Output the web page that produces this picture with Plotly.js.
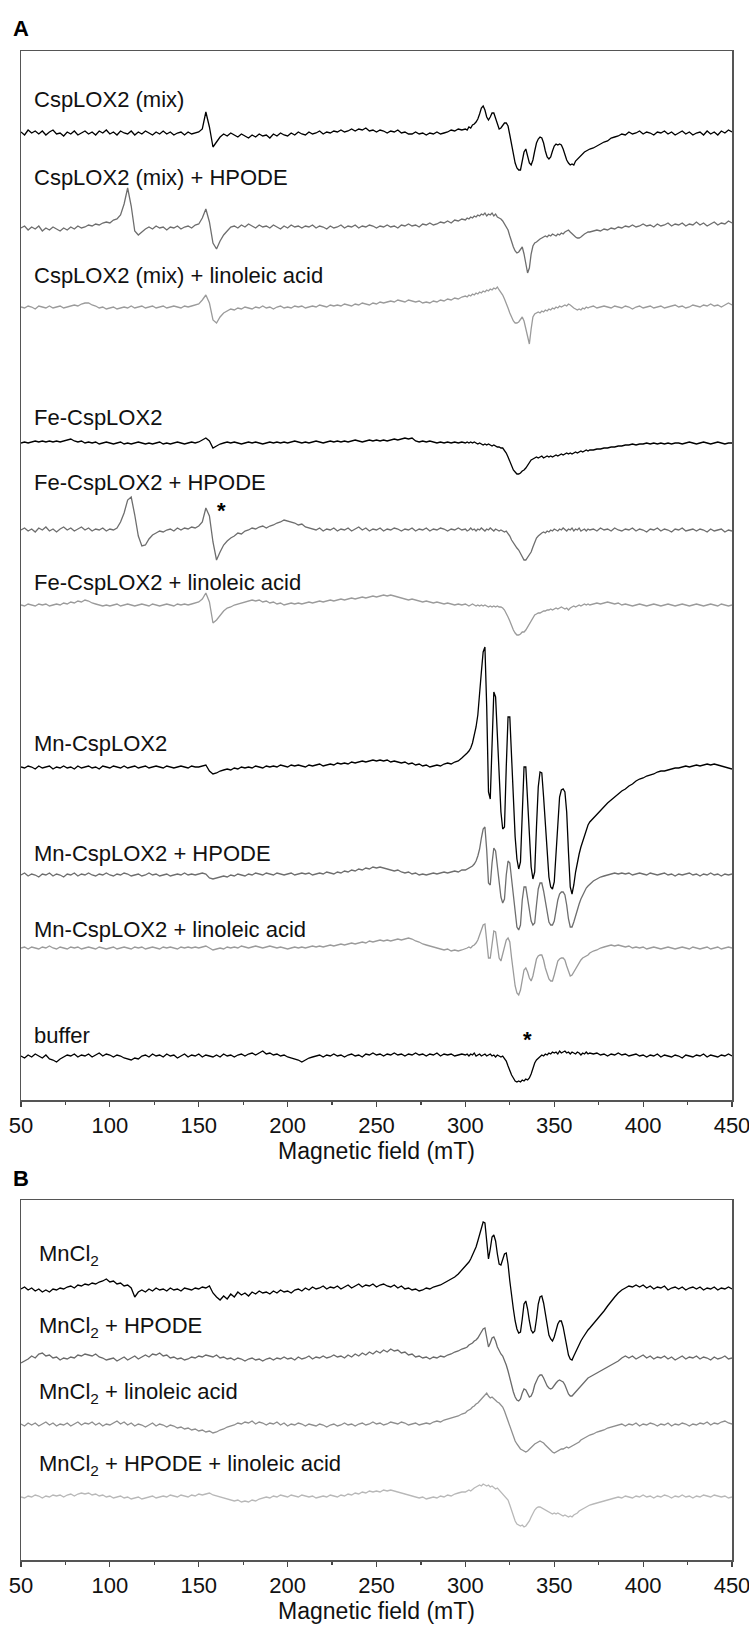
<!DOCTYPE html>
<html>
<head>
<meta charset="utf-8">
<script src="https://cdn.plot.ly/plotly-3.0.1.min.js"></script>
<style>html,body{margin:0;padding:0;background:#fff;}#chart{width:749px;height:1627px;}</style>
</head>
<body>
<div id="chart"></div>
<script>
// Magnetic field grid (mT)
const fieldLow = [50,52,54,56,58,60,62,64,66,68,70,72,74,76,78,80,82,84,86,88,90,92,94,96,98,100,102,104,106,108,110,112,114,116,118,120,122,124,126,128,130,132,134,136,138,140,142,144,146,148,150,152,154,156,158,160,162,164,166,168,170,172,174,176,178,180,182,184,186,188,190,192,194,196,198,200,202,204,206,208,210,212,214,216,218,220,222,224,226,228,230,232,234,236,238,240,242,244,246,248,250,252,254,256,258,260,262,264,266,268,270,272,274,276,278,280,282,284,286,288,290,292,294,296,298];
const fieldMid = [300,301,302,303,304,305,306,307,308,309,310,311,312,313,314,315,316,317,318,319,320,321,322,323,324,325,326,327,328,329,330,331,332,333,334,335,336,337,338,339,340,341,342,343,344,345,346,347,348,349,350,351,352,353,354,355,356,357,358,359,360,361,362,363,364,365,366,367,368,369,370];
const fieldHigh = [372,374,376,378,380,382,384,386,388,390,392,394,396,398,400,402,404,406,408,410,412,414,416,418,420,422,424,426,428,430,432,434,436,438,440,442,444,446,448,450];

// Panel A spectra (arbitrary units, signal relative to each baseline)
const cspMix = [
1,-2,3,0,2,-1,2,-2,1,3, -1,0,-3,1,-1,2,-2,0,2,-1, 1,-2,2,0,3,-1,1,-2,2,0, -1,2,-2,1,-1,2,0,-2,1,-1,
2,-1,1,-2,0,1,-2,1,-1,0, 1,4,21,6,-14,-9,-4,-1,-3,0, -2,-4,-1,-3,-5,-2,-4,-1,-3,-2, -5,-1,-3,0,-2,-3,0,-2,1,-1,
-2,1,-1,0,2,-1,1,0,2,1, 3,1,2,4,2,4,3,5,2,3, 1,3,2,0,2,1,3,0,1,-1, -1,1,-1,0,-2,0,-1,1,-1,0, 1,3,2,4,3,
4,3,6,5,8,9,11,14,19,25,27,23,16,13,16,20,20,15,8,4,5,8,10,10,7,-2,-12,-22,-30,-35,-37,-37,-28,-19,-16,-22,-30,-32,-27,-18,-10,-6,-4,-5,-10,-18,-24,-26,-24,-18,-13,-11,-12,-11,-12,-16,-22,-27,-30,-32,-31,-32,-28,-26,-24,-22,-21,-19,-18,-17,-16,
-15,-13,-11,-9,-8,-5,-4,-3,-1,-2, 1,-1,0,2,-1,1,0,-2,1,0, 2,-1,1,-2,0,2,-1,1,-2,0, 1,-2,2,-1,1,-2,2,0,3,1];
const cspMixHpode = [
0,2,-2,1,-1,2,-3,0,-2,1, -1,-3,0,-2,1,-1,2,0,1,3, 2,4,3,5,6,5,8,9,13,24, 40,22,-3,-7,-4,-1,1,-1,2,0,
1,-2,1,0,2,-1,1,2,0,3, 4,10,19,6,-15,-21,-13,-7,-3,1, 2,0,3,1,4,2,0,3,1,2, 0,3,1,-1,2,0,3,1,2,0,
2,1,3,0,2,1,-1,2,0,1, 3,0,2,1,3,0,2,1,3,2, 0,2,1,3,1,2,0,3,2,4, 2,3,1,4,3,5,3,4,6,5, 7,5,8,7,9,
8,10,9,11,10,12,11,13,12,14,13,15,12,14,13,15,12,14,11,10,9,7,4,2,-2,-8,-14,-19,-23,-25,-24,-21,-19,-26,-34,-45,-40,-26,-18,-15,-14,-12,-11,-10,-9,-8,-9,-7,-8,-6,-7,-8,-6,-7,-5,-6,-4,-3,-2,-4,-6,-8,-9,-10,-10,-9,-7,-6,-5,-4,-4,
-3,-2,-3,-1,-2,0,-1,1,0,2, 1,3,1,2,4,2,3,1,4,2, 3,5,2,4,3,5,2,4,3,6, 3,5,2,4,6,3,5,4,7,5];
const cspMixLinoleic = [
0,-1,1,0,-2,1,0,-1,1,-1, 0,1,-1,0,1,2,1,3,4,4, 2,1,-1,0,-2,-1,0,-2,-1,0, -1,1,-1,0,1,-1,0,1,-1,0,
1,-1,0,1,0,-1,1,0,1,2, 3,7,12,4,-13,-16,-10,-6,-4,-2, -3,-1,-2,0,-1,-2,0,-1,1,-1, 0,-2,0,1,-1,0,-1,1,0,1,
-1,0,1,0,2,1,0,2,1,2, 1,3,2,1,3,2,4,3,2,4, 3,5,4,5,6,5,7,6,5,7, 6,5,6,4,5,4,6,5,7,6, 8,7,9,8,10,
11,10,12,11,13,12,14,13,15,14,16,15,17,16,18,17,19,18,20,17,15,12,8,4,-1,-6,-11,-14,-16,-16,-15,-12,-10,-14,-22,-32,-37,-22,-10,-7,-6,-5,-6,-4,-5,-3,-4,-2,-3,-1,-2,0,-1,1,0,1,2,1,3,2,0,-1,-2,-3,-2,-3,-1,-2,0,-1,0,
1,-1,0,1,0,-1,1,0,-1,1, 0,-2,0,1,-1,0,1,-1,0,1, -1,0,1,2,0,1,-1,0,2,1, 0,2,1,3,1,2,0,2,4,2];
const feCsp = [
0,1,0,1,2,1,2,1,2,1, 2,1,2,3,4,2,1,2,0,1, 0,1,-1,0,1,0,-1,0,1,-1, 0,-1,0,1,0,-1,0,-1,0,1,
-1,0,-1,0,1,0,-1,0,1,0, 1,3,5,2,-5,-3,-1,0,1,0, 1,0,-1,0,1,0,1,0,-1,0, 1,0,1,0,1,0,1,2,1,0,
1,0,1,2,1,0,1,2,1,2, 1,2,1,2,3,2,1,2,3,2, 3,2,3,2,3,4,3,4,5,4, 5,2,1,2,1,2,1,0,1,0, 1,0,1,0,1,
0,1,0,1,0,1,0,-1,0,-1,-2,-1,-2,-1,-2,-3,-2,-3,-4,-4,-5,-5,-7,-10,-14,-18,-23,-27,-29,-31,-31,-30,-28,-27,-25,-22,-19,-17,-16,-15,-14,-15,-14,-13,-15,-14,-13,-14,-13,-14,-13,-12,-13,-12,-11,-12,-11,-10,-11,-10,-11,-10,-9,-10,-9,-8,-9,-8,-7,-8,-7,
-7,-6,-6,-5,-5,-4,-4,-3,-3,-2, -2,-1,-2,-1,-1,0,-1,0,-1,0, -1,0,-1,0,0,-1,0,1,0,-1, 0,1,0,-1,0,1,0,-1,0,0];
const feCspHpode = [
0,2,-1,1,-2,2,0,3,-1,1, -2,1,3,0,2,-1,1,3,0,2, -1,1,0,2,-1,1,0,2,8,17, 30,33,15,-6,-16,-15,-9,-5,-3,-1,
-2,0,1,-1,2,0,2,1,3,2, 4,8,22,14,-12,-30,-22,-15,-11,-8, -6,-3,-4,-1,0,2,1,3,4,2, 4,5,7,8,10,9,8,7,5,6,
3,2,1,0,2,-1,1,0,2,-1, 1,0,2,-1,1,3,0,2,-1,1, 0,2,-1,1,0,2,1,-1,1,0, 2,-1,1,0,2,-1,1,0,2,1, -1,1,0,2,0,
1,-1,0,2,0,1,-1,1,0,2,0,-1,1,0,2,0,-1,1,0,-1,0,-1,-2,-1,-3,-6,-10,-13,-16,-18,-20,-23,-27,-30,-30,-27,-24,-22,-17,-12,-8,-6,-4,-3,-2,-3,-1,-2,0,-1,1,0,-1,1,0,2,0,-1,1,0,2,-1,1,0,2,-1,0,1,-1,1,0,
1,-1,2,0,1,-1,2,0,-1,1, 0,2,-1,1,0,-2,1,0,2,-1, 1,0,-2,1,0,2,-1,0,1,-1, 1,0,-2,1,-1,0,1,-2,0,-1];
const feCspLinoleic = [
0,-1,1,0,-1,1,0,1,-1,0, 1,0,2,1,3,2,4,3,5,4, 2,1,0,-1,0,-1,0,1,-1,0, 1,0,-1,0,1,0,-1,1,0,-1,
0,1,0,-1,1,0,1,0,1,2, 3,6,12,3,-18,-15,-10,-6,-3,-2, 0,1,2,3,4,5,4,5,3,4, 2,3,1,2,0,1,2,1,2,1,
2,3,2,3,4,3,4,5,4,5, 6,5,6,7,6,7,8,7,8,9, 8,9,10,9,10,9,8,7,6,5, 6,5,4,3,4,3,2,3,2,1, 2,1,0,1,0,
1,0,-1,0,1,0,-1,0,-1,0,-1,0,-1,-2,-1,-2,-1,-2,-1,-2,-2,-3,-5,-8,-12,-16,-21,-25,-28,-30,-30,-29,-27,-27,-25,-22,-18,-15,-12,-10,-9,-8,-8,-7,-6,-6,-5,-5,-4,-5,-4,-3,-4,-3,-2,-3,-4,-3,-5,-3,-2,-1,-2,-1,0,-1,0,1,0,1,0,
1,2,1,2,3,2,1,2,0,1, 0,-1,0,1,0,-1,0,1,0,-1, 0,1,0,-1,0,1,0,-1,0,1, 0,-1,0,1,0,-1,1,0,-1,0];
const mnCsp = [
0,-1,1,0,-2,1,-1,0,1,-2, 0,-1,1,-1,0,-2,1,-1,0,1, -1,0,-2,1,0,-1,1,0,-1,1, -1,0,1,-1,0,1,-1,0,1,0,
-1,1,0,-1,0,1,0,-1,1,0, 0,1,2,-4,-7,-6,-4,-3,-2,-3, -1,-2,0,-1,0,-1,1,0,-1,1, 0,1,0,2,1,0,2,1,2,1,
0,2,1,2,3,1,2,3,2,4, 3,4,3,5,4,5,6,5,6,7, 6,7,6,7,5,6,5,4,5,3, 4,2,3,1,2,0,1,2,1,3, 4,3,5,6,9,
12,14,16,19,24,31,40,52,70,95,115,120,60,-25,-32,30,75,70,35,-10,-45,-62,-60,0,50,50,10,-35,-70,-92,-102,-95,-40,0,0,-30,-70,-100,-112,-105,-60,-20,-5,-6,-30,-60,-90,-110,-120,-122,-115,-85,-50,-30,-23,-22,-25,-45,-85,-120,-127,-118,-105,-95,-87,-80,-74,-68,-63,-58,-55,
-51,-47,-43,-40,-36,-33,-30,-27,-24,-22, -19,-17,-14,-12,-11,-9,-8,-7,-5,-4, -4,-3,-2,-1,-1,0,1,0,1,2, 1,2,3,2,3,2,1,0,-1,-2];
const mnCspHpode = [
0,2,-1,1,0,-2,1,0,2,-1, 1,0,-2,1,0,2,-1,1,0,2, 0,-1,1,0,2,0,-1,1,0,2, 1,-1,0,1,-1,0,2,0,1,-1,
0,1,-1,0,1,0,2,0,1,0, 1,2,1,-3,-4,-3,-2,-1,-2,0, -1,1,0,-1,1,0,2,1,0,2, 1,0,2,1,0,1,2,0,1,2,
1,2,0,1,2,1,3,2,1,3, 2,4,3,5,4,6,5,7,6,8, 7,8,7,6,5,4,5,3,2,3, 1,2,0,1,0,1,2,1,2,3, 2,3,4,3,5,
5,6,7,8,9,11,14,19,26,37,46,48,25,-8,-10,12,27,24,10,-8,-22,-28,-24,0,14,12,-5,-25,-42,-52,-55,-50,-25,-12,-12,-22,-35,-46,-50,-48,-30,-14,-8,-8,-16,-28,-40,-47,-50,-50,-46,-35,-25,-19,-17,-17,-20,-30,-44,-52,-52,-47,-40,-34,-29,-24,-20,-16,-13,-11,-9,
-6,-4,-2,-1,0,1,2,1,2,1, 2,0,1,2,1,0,2,1,0,1, 2,0,1,-1,1,0,1,2,0,1, -1,1,0,2,0,1,-1,1,0,1];
const mnCspLinoleic = [
0,1,-1,1,0,-1,1,0,2,0, -1,1,0,-1,1,0,1,-1,0,1, 0,-1,1,0,-1,0,1,-1,0,1, 0,-1,1,0,1,-1,0,1,0,-1,
1,0,1,0,-1,1,0,1,0,1, 0,1,2,0,-2,-1,0,-1,1,0, 1,0,2,1,0,1,2,1,0,1, 2,1,0,1,0,-1,0,1,0,1,
0,1,2,1,2,1,2,3,2,3, 4,3,4,5,4,5,6,5,7,6, 7,8,7,8,7,8,9,8,9,10, 9,7,6,4,3,2,1,0,-1,-2, -1,-3,-2,-3,-2,
-1,0,1,0,2,3,5,8,13,19,23,24,8,-10,-10,6,17,16,3,-10,-13,-6,2,8,10,6,-10,-25,-38,-45,-47,-42,-30,-22,-20,-24,-30,-33,-28,-18,-11,-8,-7,-7,-12,-20,-27,-31,-33,-33,-27,-19,-13,-11,-10,-10,-12,-18,-24,-28,-27,-24,-20,-17,-14,-12,-10,-9,-8,-7,-5,
-3,-2,0,1,2,3,2,3,2,1, 2,0,1,0,1,-1,0,1,0,-1, 0,1,0,-1,0,1,0,-1,1,0, -1,0,1,-1,0,1,-1,0,1,0];
const bufferA = [
0,-2,1,-1,2,0,-2,1,-3,-4, -6,-3,-1,1,0,2,-1,1,0,2, -1,1,3,0,2,1,-1,1,0,-2, -3,-4,-2,-3,0,1,-1,2,0,1,
-1,2,0,1,-2,0,2,-1,1,0, 2,-1,1,0,-1,1,-1,2,0,1, -1,1,2,0,2,3,1,3,5,2, 3,1,2,0,1,-1,-2,-3,-4,-6,
-4,-2,-1,0,1,-1,1,0,2,0, 1,-1,1,2,0,1,-1,2,1,3, 1,2,0,2,1,3,1,2,0,2, 1,3,1,2,0,2,1,3,0,2, 1,2,0,1,2,
1,2,0,2,1,3,0,1,2,0,1,2,0,1,2,0,1,-1,1,0,-1,0,-2,-5,-10,-15,-19,-22,-25,-26,-25,-26,-24,-25,-23,-24,-22,-18,-12,-7,-4,-2,0,1,0,2,1,3,2,4,3,4,2,5,3,4,5,3,4,2,4,3,2,4,3,1,3,2,4,2,3,
2,3,1,2,0,2,1,3,1,2, 0,1,2,0,1,-1,1,0,2,-1, 1,0,-1,1,0,-2,1,0,-1,1, 0,2,-1,1,0,-1,1,0,2,0];

// Panel B spectra
const mncl2 = [
0,2,-1,1,-2,0,-3,-1,-3,0, -1,1,0,2,3,1,4,3,5,4, 6,5,7,8,10,7,8,5,6,3, 4,1,-8,-3,-1,-3,0,-2,1,-1,
0,-2,1,-1,0,-2,1,0,-1,1, 0,2,1,3,-4,-8,-11,-7,-10,-5, -8,-3,-6,-4,-7,-3,-5,-2,-4,-3, -5,-2,-4,-1,-3,-2,-4,-1,0,-2,
1,-1,2,0,1,3,0,2,1,3, 0,2,4,1,3,5,2,4,3,5, 2,4,5,3,2,4,1,3,0,1, -1,0,-2,-1,1,0,2,3,4,6, 8,10,12,15,19,
22,25,27,30,34,38,42,48,55,62,67,66,45,30,40,52,54,48,35,25,24,30,35,36,25,8,-8,-20,-32,-40,-44,-43,-30,-15,-12,-20,-32,-41,-44,-42,-30,-15,-8,-7,-14,-26,-38,-46,-50,-52,-48,-40,-35,-32,-32,-38,-48,-58,-66,-70,-71,-67,-63,-59,-55,-52,-49,-46,-43,-41,-39,
-35,-31,-27,-22,-17,-12,-8,-4,-1,1, 3,2,4,2,4,1,3,0,2,1, 3,-1,1,2,0,2,-1,1,2,0, 2,-1,1,0,2,-1,1,0,2,0];
const mncl2Hpode = [
-4,-2,0,3,1,5,6,3,4,1, 2,-1,1,0,2,1,4,3,5,4, 3,5,2,1,-1,0,1,-2,0,2, -1,1,3,0,2,4,2,5,4,6,
3,4,1,2,0,1,-1,0,2,1, 3,2,4,3,2,4,1,2,0,1, -1,1,0,-2,0,1,-1,0,-2,0, 1,-1,1,0,2,0,1,-1,2,0,
1,3,0,2,1,3,1,2,4,2, 3,1,4,2,5,3,6,4,7,5, 8,6,9,7,10,8,9,6,7,4, 5,2,3,1,2,0,2,1,3,2, 4,5,7,8,10,
11,12,14,15,16,18,19,21,24,27,30,31,22,12,16,21,22,18,12,8,5,3,-1,-6,-12,-20,-27,-33,-38,-41,-42,-40,-34,-30,-31,-35,-38,-37,-33,-26,-21,-18,-16,-16,-19,-23,-27,-29,-30,-29,-26,-24,-22,-21,-22,-23,-26,-31,-35,-37,-37,-35,-33,-30,-28,-26,-24,-22,-20,-19,-18,
-16,-14,-12,-10,-8,-6,-4,-2,1,3, 1,3,0,2,4,1,3,0,2,1, 3,0,2,-1,1,3,0,2,1,3, 0,2,1,-1,2,0,1,3,0,1];
const mncl2Linoleic = [
1,-1,2,0,2,-1,1,3,0,2, -1,1,0,2,-1,1,3,0,2,1, 3,0,2,-1,1,0,2,4,1,3, 0,2,-1,1,0,-2,0,2,-1,1,
0,-2,0,-1,-3,-2,-4,-3,-5,-4, -6,-5,-7,-6,-8,-7,-5,-4,-2,-1, 0,2,1,3,2,4,1,3,2,0, 2,1,3,0,2,-1,1,0,2,1,
-1,1,0,-1,1,0,-2,0,1,-1, 0,2,0,1,-1,1,2,0,1,3, 1,2,0,1,3,2,1,3,2,0, 1,2,0,1,2,1,3,4,3,5, 6,7,8,9,11,
12,14,15,16,18,19,21,22,24,26,28,30,32,29,27,28,26,25,23,22,20,18,14,9,3,-3,-8,-12,-16,-19,-22,-24,-25,-26,-27,-26,-24,-22,-20,-19,-18,-17,-16,-17,-18,-20,-22,-24,-26,-27,-28,-27,-26,-25,-24,-24,-23,-22,-23,-22,-21,-20,-19,-18,-17,-15,-14,-13,-12,-11,-10,
-9,-7,-6,-5,-3,-2,-1,0,1,-1, 1,0,2,-1,1,0,2,1,-1,1, 0,2,-1,1,0,2,1,-1,1,0, 2,1,3,0,2,1,3,4,2,1];
const mncl2HpodeLinoleic = [
0,-1,1,0,2,1,-1,1,0,2, 1,2,0,2,3,1,3,4,3,4, 2,3,1,2,0,1,-1,0,1,-1, 0,-2,-1,0,-2,-1,0,1,-1,0,
1,0,2,1,0,2,1,0,2,1, 3,2,3,4,2,1,0,-1,-2,-3, -4,-3,-5,-4,-5,-3,-4,-2,-1,0, -1,1,0,2,1,0,2,1,0,2,
1,0,1,-1,0,1,0,2,1,0, 2,1,3,2,4,3,5,4,6,5, 6,5,7,6,7,6,5,4,3,2, 1,0,-1,0,-2,-1,0,-1,1,0, 2,1,3,4,5,
5,6,7,6,8,9,10,11,12,11,13,12,11,12,10,11,9,8,9,7,6,4,2,0,-3,-8,-14,-20,-24,-27,-28,-29,-28,-30,-29,-27,-24,-20,-16,-13,-11,-10,-10,-11,-12,-13,-14,-15,-16,-17,-16,-17,-16,-17,-18,-19,-18,-19,-20,-19,-20,-18,-17,-16,-14,-13,-12,-11,-10,-9,-8,
-7,-6,-5,-4,-3,-2,-1,0,-1,1, 0,-1,1,0,2,0,1,-1,1,0, 2,1,-1,1,0,2,0,1,-1,1, 0,2,1,0,2,1,0,1,-1,0];

const labelsA = ["CspLOX2 (mix)", "CspLOX2 (mix) + HPODE", "CspLOX2 (mix) + linoleic acid",
  "Fe-CspLOX2", "Fe-CspLOX2 + HPODE", "Fe-CspLOX2 + linoleic acid",
  "Mn-CspLOX2", "Mn-CspLOX2 + HPODE", "Mn-CspLOX2 + linoleic acid", "buffer"];
const labelsB = ["MnCl<sub>2</sub>", "MnCl<sub>2</sub> + HPODE", "MnCl<sub>2</sub> + linoleic acid",
  "MnCl<sub>2</sub> + HPODE + linoleic acid"];
const xTicks = [50, 100, 150, 200, 250, 300, 350, 400, 450];
const xMinorTicks = [75, 125, 175, 225, 275, 325, 375, 425];

// ---- drawing ----
const field = fieldLow.concat(fieldMid, fieldHigh);
const W = 749, H = 1627;
const seriesA = [cspMix, cspMixHpode, cspMixLinoleic, feCsp, feCspHpode, feCspLinoleic, mnCsp, mnCspHpode, mnCspLinoleic, bufferA];
const seriesB = [mncl2, mncl2Hpode, mncl2Linoleic, mncl2HpodeLinoleic];
const colorsA = ['#000000', '#6e6e6e', '#9b9b9b', '#000000', '#6e6e6e', '#9b9b9b', '#000000', '#6e6e6e', '#9b9b9b', '#000000'];
const colorsB = ['#000000', '#6a6a6a', '#8e8e8e', '#b8b8b8'];
// stacking: baselines in pixel rows
const baseA = [133, 228, 307, 443, 530, 605, 767, 875, 948, 1056];
const baseB = [1289, 1359, 1425, 1497];
const labelYA = [100, 177, 276, 417, 482, 582, 743, 853, 929, 1035];
const labelYB = [1255, 1327, 1393, 1465];
const A_top = 51, A_bot = 1100, B_top = 1200, B_bot = 1560, L = 21, R = 732;

const traces = [];
seriesA.forEach((s, i) => {
  const off = A_bot - baseA[i];
  traces.push({x: field, y: s.map(v => v + off), type: 'scatter', mode: 'lines',
    line: {color: colorsA[i], width: 1.3}, xaxis: 'x', yaxis: 'y', hoverinfo: 'skip', showlegend: false});
});
seriesB.forEach((s, i) => {
  const off = B_bot - baseB[i];
  traces.push({x: field, y: s.map(v => v + off), type: 'scatter', mode: 'lines',
    line: {color: colorsB[i], width: 1.3}, xaxis: 'x2', yaxis: 'y2', hoverinfo: 'skip', showlegend: false});
});

const FONT = 'Liberation Sans, Arial, Helvetica, sans-serif';
const py = p => 1 - p / H;
const annotations = [];
labelsA.forEach((t, i) => annotations.push({text: t, xref: 'paper', yref: 'paper', x: 32 / W, y: py(labelYA[i]),
  xanchor: 'left', yanchor: 'middle', showarrow: false, font: {size: 22, color: '#111'}}));
labelsB.forEach((t, i) => annotations.push({text: t, xref: 'paper', yref: 'paper', x: 37 / W, y: py(labelYB[i]),
  xanchor: 'left', yanchor: 'middle', showarrow: false, font: {size: 22, color: '#111'}}));
annotations.push({text: '<b>A</b>', xref: 'paper', yref: 'paper', x: 11 / W, y: py(28), xanchor: 'left', yanchor: 'middle', showarrow: false, font: {size: 22, color: '#000'}});
annotations.push({text: '<b>B</b>', xref: 'paper', yref: 'paper', x: 11 / W, y: py(1178), xanchor: 'left', yanchor: 'middle', showarrow: false, font: {size: 22, color: '#000'}});
annotations.push({text: '<b>*</b>', xref: 'paper', yref: 'paper', x: 221 / W, y: py(510), xanchor: 'center', yanchor: 'middle', showarrow: false, font: {size: 22, color: '#000'}});
annotations.push({text: '<b>*</b>', xref: 'paper', yref: 'paper', x: 527 / W, y: py(1039), xanchor: 'center', yanchor: 'middle', showarrow: false, font: {size: 22, color: '#000'}});

function xa(anchor) {
  return {domain: [L / W, R / W], range: [50, 450], anchor: anchor, tickmode: 'array', tickvals: xTicks,
    ticks: 'outside', ticklen: 5, tickwidth: 1.2, tickcolor: '#444', ticklabeloverflow: 'allow',
    minor: {tickvals: xMinorTicks, ticks: 'outside', ticklen: 3, tickwidth: 1.2, tickcolor: '#444', showgrid: false},
    showline: true, linecolor: '#555', linewidth: 1.5, mirror: true, showgrid: false, zeroline: false,
    tickfont: {size: 22, color: '#111'},
    title: {text: 'Magnetic field (mT)', font: {size: 23, color: '#111'}, standoff: 4}};
}
function ya(anchor, top, bot) {
  return {domain: [1 - bot / H, 1 - top / H], range: [0, bot - top], anchor: anchor, showline: true, linecolor: '#555', linewidth: 1.5,
    mirror: true, showticklabels: false, ticks: '', showgrid: false, zeroline: false};
}

const layout = {
  width: W, height: H, margin: {l: 0, r: 0, t: 0, b: 0}, paper_bgcolor: '#fff', plot_bgcolor: '#fff',
  font: {family: FONT, size: 22, color: '#111'},
  xaxis: xa('y'), yaxis: ya('x', A_top, A_bot),
  xaxis2: xa('y2'), yaxis2: ya('x2', B_top, B_bot),
  annotations: annotations, showlegend: false
};
Plotly.newPlot('chart', traces, layout, {displayModeBar: false, staticPlot: true});
</script>
</body>
</html>
